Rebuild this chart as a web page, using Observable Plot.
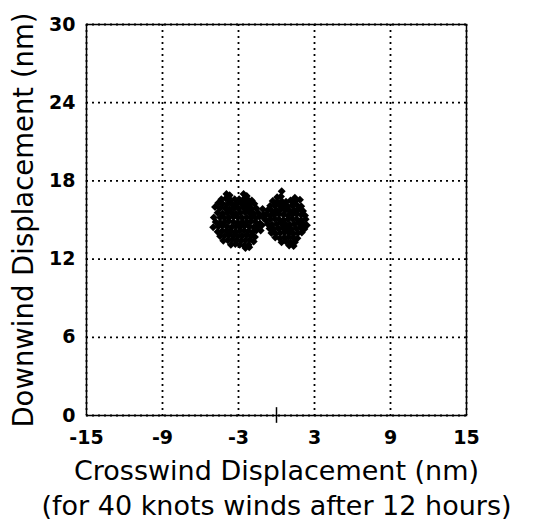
<!DOCTYPE html>
<html>
<head>
<meta charset="utf-8">
<script src="https://cdn.jsdelivr.net/npm/d3@7"></script>
<script src="https://cdn.jsdelivr.net/npm/@observablehq/plot@0.6"></script>
<style>
  html, body { margin: 0; padding: 0; background: #fff; }
  #chart svg { display: block; }
</style>
</head>
<body>
<div id="chart"></div>
<script>
const xTicks = [-15, -9, -3, 3, 9, 15];
const yTicks = [0, 6, 12, 18, 24, 30];
const xLabel = "Crosswind Displacement (nm)";
const xCaption = "(for 40 knots winds after 12 hours)";
const yLabel = "Downwind Displacement (nm)";
const originMark = [0];

// Left cluster: [crosswind, downwind]
const clusterLeft = [
  [-3.95,17.0],[-3.7,16.9],[-2.6,17.0],[-2.35,16.85],
  [-4.35,16.6],[-4.0,16.65],[-3.65,16.55],[-3.3,16.6],[-2.95,16.6],[-2.6,16.6],[-2.25,16.55],[-1.95,16.5],
  [-4.6,16.3],[-4.25,16.25],[-3.85,16.25],[-3.5,16.2],[-3.15,16.25],[-2.8,16.3],[-2.45,16.25],[-2.1,16.2],[-1.75,16.25],
  [-4.85,16.0],[-4.45,15.9],[-4.05,15.9],[-3.7,15.85],[-3.35,15.9],[-3.0,15.9],[-2.65,15.95],[-2.3,15.9],[-1.95,15.85],[-1.6,15.9],
  [-4.65,15.55],[-4.25,15.5],[-3.9,15.55],[-3.55,15.55],[-3.2,15.5],[-2.85,15.55],[-2.5,15.6],[-2.15,15.55],[-1.8,15.5],[-1.45,15.55],
  [-4.95,15.2],[-4.45,15.2],[-4.1,15.15],[-3.75,15.2],[-3.4,15.25],[-3.05,15.2],[-2.7,15.15],[-2.35,15.2],[-2.0,15.2],[-1.65,15.15],[-1.35,15.25],
  [-4.8,14.85],[-4.45,14.8],[-4.1,14.85],[-3.75,14.9],[-3.4,14.85],[-3.05,14.8],[-2.7,14.85],[-2.35,14.85],[-2.0,14.9],[-1.65,14.85],[-1.3,14.75],
  [-5.0,14.45],[-4.6,14.5],[-4.25,14.55],[-3.9,14.5],[-3.55,14.45],[-3.2,14.5],[-2.85,14.5],[-2.5,14.55],[-2.15,14.5],[-1.8,14.45],[-1.5,14.5],
  [-4.65,14.1],[-4.3,14.15],[-3.95,14.2],[-3.6,14.15],[-3.25,14.1],[-2.9,14.15],[-2.55,14.2],[-2.2,14.15],[-1.85,14.1],[-1.6,14.2],
  [-4.45,13.75],[-4.1,13.8],[-3.75,13.85],[-3.4,13.8],[-3.05,13.75],[-2.7,13.8],[-2.35,13.85],[-2.0,13.8],[-1.7,13.7],
  [-4.2,13.4],[-3.85,13.45],[-3.5,13.5],[-3.15,13.45],[-2.8,13.4],[-2.45,13.45],[-2.1,13.5],[-1.8,13.35],
  [-3.6,13.1],[-3.25,13.15],[-2.9,13.1],[-2.55,13.05],[-2.2,13.1],
  [-2.45,12.85],[-2.15,12.9],
  [-1.1,15.85],[-1.0,15.45],[-0.95,15.1],[-1.15,14.6],[-1.25,14.2]
];

// Right cluster: [crosswind, downwind]
const clusterRight = [
  [0.41,17.2],
  [0.05,16.75],[0.35,16.8],[1.45,16.7],[1.85,16.55],
  [-0.3,16.45],[0.05,16.4],[0.4,16.45],[0.75,16.4],[1.1,16.5],[1.45,16.4],
  [-0.5,16.1],[-0.15,16.1],[0.2,16.15],[0.55,16.1],[0.9,16.05],[1.25,16.1],[1.6,16.15],[1.95,16.05],
  [-0.7,15.75],[-0.35,15.7],[0.0,15.75],[0.35,15.8],[0.7,15.75],[1.05,15.7],[1.4,15.75],[1.75,15.8],[2.1,15.7],
  [-0.8,15.4],[-0.5,15.35],[-0.15,15.4],[0.2,15.45],[0.55,15.4],[0.9,15.35],[1.25,15.4],[1.6,15.45],[1.95,15.4],[2.25,15.35],
  [-0.85,15.0],[-0.5,15.05],[-0.15,15.1],[0.2,15.05],[0.55,15.0],[0.9,15.05],[1.25,15.1],[1.6,15.05],[1.95,15.0],[2.3,15.05],
  [-0.7,14.7],[-0.35,14.65],[0.0,14.7],[0.35,14.75],[0.7,14.7],[1.05,14.65],[1.4,14.7],[1.75,14.75],[2.1,14.7],[2.4,14.6],
  [-0.55,14.35],[-0.2,14.3],[0.15,14.35],[0.5,14.4],[0.85,14.35],[1.2,14.3],[1.55,14.35],[1.9,14.4],[2.2,14.3],
  [-0.4,14.0],[-0.05,13.95],[0.3,14.0],[0.65,14.05],[1.0,14.0],[1.35,13.95],[1.7,14.0],[2.0,14.05],
  [-0.1,13.65],[0.25,13.6],[0.6,13.65],[0.95,13.7],[1.3,13.65],[1.65,13.6],
  [0.4,13.3],[0.75,13.35],[1.1,13.3],[1.45,13.3],
  [1.0,13.05],[1.35,13.0]
];

const points = [...clusterLeft, ...clusterRight].map(([x, y]) => ({x, y}));
const font = "'DejaVu Sans', Verdana, sans-serif";

const chart = Plot.plot({
  width: 543,
  height: 529,
  marginLeft: 86,
  marginRight: 77,
  marginTop: 24,
  marginBottom: 114,
  style: { fontFamily: font, background: "#fff", color: "#000" },
  x: { domain: [-15, 15] },
  y: { domain: [0, 30] },
  marks: [
    Plot.gridX(xTicks, { stroke: "#000", strokeOpacity: 1, strokeWidth: 1.8, strokeDasharray: "2,4" }),
    Plot.gridY(yTicks, { stroke: "#000", strokeOpacity: 1, strokeWidth: 1.8, strokeDasharray: "2,4" }),
    Plot.dot(points, { x: "x", y: "y", symbol: "diamond2", r: 3.6, fill: "#000", stroke: null }),
    Plot.frame({ stroke: "#000", strokeWidth: 1.5 }),
    Plot.ruleX(originMark, { y1: -0.6, y2: 0.6, stroke: "#000", strokeWidth: 1.5, clip: false }),
    Plot.axisX(xTicks, { tickSize: 0, tickPadding: 15, label: null, tickFormat: d => String(d), fontSize: 19, fontWeight: "bold", fontFamily: font }),
    Plot.axisY(yTicks, { tickSize: 0, tickPadding: 11, label: null, tickFormat: d => String(d), fontSize: 19, fontWeight: "bold", fontFamily: font }),
    Plot.text([xLabel], { frameAnchor: "bottom", dy: 56, fontSize: 27, fontFamily: font, lineAnchor: "middle" }),
    Plot.text([xCaption], { frameAnchor: "bottom", dy: 91, fontSize: 27, fontFamily: font, lineAnchor: "middle" }),
    Plot.text([yLabel], { frameAnchor: "left", dx: -62, rotate: -90, textAnchor: "middle", fontSize: 27.5, fontFamily: font, lineAnchor: "middle" })
  ]
});
document.getElementById("chart").appendChild(chart);
</script>
</body>
</html>
